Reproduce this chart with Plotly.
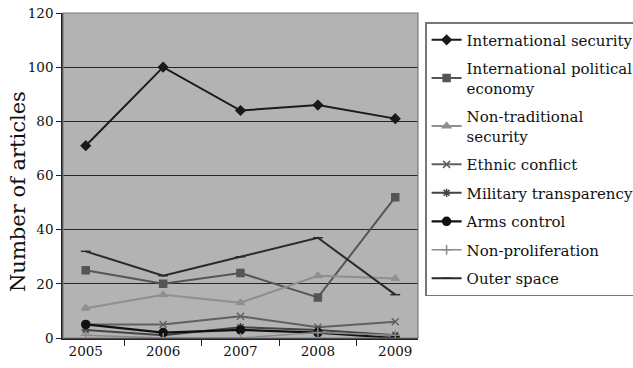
import plotly.graph_objects as go

years = ["2005", "2006", "2007", "2008", "2009"]

international_security = [71, 100, 84, 86, 81]
international_political_economy = [25, 20, 24, 15, 52]
non_traditional_security = [11, 16, 13, 23, 22]
ethnic_conflict = [5, 5, 8, 4, 6]
military_transparency = [3, 1, 4, 3, 1]
arms_control = [5, 2, 3, 2, 0]
non_proliferation = [1, 0, 0, 2, 1]
outer_space = [32, 23, 30, 37, 16]

y_ticks = [0, 20, 40, 60, 80, 100, 120]

series = [
    ("International security", international_security, "#1a1a1a", "diamond", 7, 2),
    ("International political<br>economy", international_political_economy, "#555555", "square", 7, 2),
    ("Non-traditional<br>security", non_traditional_security, "#8f8f8f", "triangle-up", 7, 2),
    ("Ethnic conflict", ethnic_conflict, "#606060", "x-thin-open", 7, 2),
    ("Military transparency", military_transparency, "#444444", "asterisk-open", 7, 2),
    ("Arms control", arms_control, "#111111", "circle", 8, 2.2),
    ("Non-proliferation", non_proliferation, "#8a8a8a", "cross-thin-open", 7, 1.5),
    ("Outer space", outer_space, "#2a2a2a", "line-ew-open", 7, 2),
]

fig = go.Figure()
for i, (name, vals, color, symbol, size, width) in enumerate(series):
    fig.add_trace(go.Scatter(
        x=years, y=vals, name=name, mode="lines+markers",
        legendgroup=f"g{i}",
        line=dict(color=color, width=width),
        marker=dict(symbol=symbol, size=size, color=color,
                    line=dict(color=color, width=1.5)),
    ))

serif = "DejaVu Serif"

fig.update_layout(
    width=633, height=368,
    margin=dict(l=63, r=215, t=13, b=30, autoexpand=False),
    paper_bgcolor="white",
    plot_bgcolor="#b3b3b3",
    font=dict(family=serif, color="#111111"),
    showlegend=True,
    legend=dict(
        x=1.02, xanchor="left", y=0.972, yanchor="top",
        bordercolor="#777777", borderwidth=1.5,
        bgcolor="white",
        font=dict(family=serif, size=15, color="#111111"),
        tracegroupgap=6,
        itemwidth=30,
    ),
    xaxis=dict(
        type="category", automargin=False,
        showline=True, linecolor="#222222", linewidth=1.5,
        mirror=False,
        ticks="outside", tickson="boundaries", ticklen=6,
        tickcolor="#222222",
        showgrid=False,
        tickfont=dict(family=serif, size=13.5, color="#111111"),
    ),
    yaxis=dict(
        range=[0, 120], tickvals=y_ticks, automargin=False,
        showline=True, linecolor="#222222", linewidth=1.5,
        ticks="outside", ticklen=5, tickcolor="#222222",
        showgrid=True, gridcolor="#262626", gridwidth=1.4,
        zeroline=False,
        tickfont=dict(family=serif, size=13.5, color="#111111"),
    ),
    annotations=[dict(
        text="Number of articles", textangle=-90,
        xref="paper", yref="paper", x=-0.127, y=0.452,
        xanchor="center", yanchor="middle", showarrow=False,
        font=dict(family=serif, size=21, color="#111111"),
    )],
    shapes=[dict(type="rect", xref="paper", yref="paper", x0=0, y0=0, x1=1, y1=1,
                 line=dict(color="#7a7a7a", width=1.2), layer="above")],
)

fig.write_html("out.html")
